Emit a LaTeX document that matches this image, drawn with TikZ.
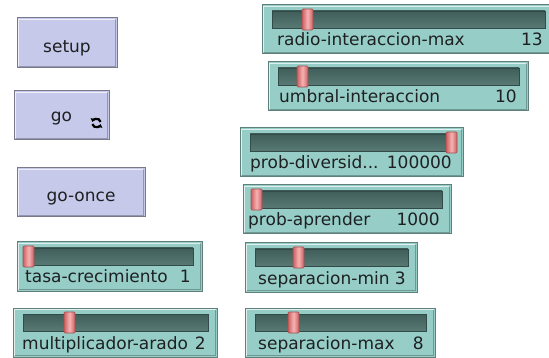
\documentclass[tikz,border=0pt]{standalone}
\usepackage{fontspec}
\setmainfont{DejaVu Sans}
\usetikzlibrary{arrows.meta}

\definecolor{btnfill}{RGB}{198,201,234}
\definecolor{btnedge}{RGB}{120,122,140}
\definecolor{sldfill}{RGB}{150,205,199}
\definecolor{sldedge}{RGB}{96,128,124}
\definecolor{trackdark}{RGB}{64,94,90}
\definecolor{tracklight}{RGB}{88,121,116}
\definecolor{knobdark}{RGB}{205,96,98}
\definecolor{knoblight}{RGB}{246,178,178}
\definecolor{txt}{RGB}{30,32,34}

\tikzset{
  widget/.style={anchor=north west, inner sep=0pt, outer sep=0pt, line width=1pt},
  buttonbox/.style={widget, fill=btnfill, draw=btnedge},
  sliderbox/.style={widget, fill=sldfill, draw=sldedge},
  bevel/.style={white, opacity=0.7, line width=1pt},
  shade/.style={black, opacity=0.25, line width=1pt},
  track/.style={anchor=north west, inner sep=0pt, outer sep=0pt, minimum height=17pt,
    top color=trackdark, bottom color=tracklight, draw=trackdark!80!black, line width=0.7pt},
  knob/.style={anchor=north west, inner sep=0pt, outer sep=0pt, minimum width=11pt, minimum height=21pt,
    left color=knobdark, right color=knobdark, middle color=knoblight, draw=knobdark!80!black,
    line width=0.6pt, rounded corners=1pt},
  lbl/.style={inner sep=0pt, font=\fontsize{17}{17}\selectfont, text=txt},
  icon/.style={line width=2.2pt, black, -{Triangle[length=3.2pt,width=5pt]}},
}

% raised edge for a widget node: light top/left, dark bottom/right
\newcommand\nlbevel[1]{%
  \draw[bevel] ([xshift=1.5pt,yshift=1.5pt]#1.south west) |- ([xshift=-1.5pt,yshift=-1.5pt]#1.north east);
  \draw[shade] ([xshift=1.5pt,yshift=1.5pt]#1.south west) -| ([xshift=-1.5pt,yshift=-1.5pt]#1.north east);
}

% NetLogo button: name, x0, y0, x1, y1, text baseline, text
\newcommand\nlbutton[7]{%
  \pgfmathsetmacro\bw{#4-#2}\pgfmathsetmacro\bh{#5-#3}
  \node[buttonbox, minimum width=\bw pt, minimum height=\bh pt] (#1) at (#2,#3) {};
  \nlbevel{#1}
  \node[lbl, anchor=base] (#1-text) at ({(#2+#4)/2},#6) {#7};
}

% NetLogo slider: name, x0, y0, x1, knob x, label, value, label x
\newcommand\nlslider[8]{%
  \pgfmathsetmacro\sw{#4-#2}\pgfmathsetmacro\tw{#4-#2-19}
  \node[sliderbox, minimum width=\sw pt, minimum height=49pt] (#1) at (#2,#3) {};
  \nlbevel{#1}
  \node[track, minimum width=\tw pt] (#1-track) at (#2+10,#3+6) {};
  \node[knob] (#1-knob) at (#5,#3+4) {};
  \node[lbl, anchor=base west] (#1-label) at (#8,#3+41) {#6};
  \node[lbl, anchor=base east] (#1-value) at (#4-11,#3+41) {#7};
}

\begin{document}
\begin{tikzpicture}[x=1pt, y=-1pt]
  \fill[white] (0,0) rectangle (549,358);
  \useasboundingbox (0,0) rectangle (549,358);

  % buttons
  \nlbutton{setup}{17}{18}{117}{68}{53}{setup}
  \nlbutton{go}{14}{91}{109}{140}{122}{go\hspace{28pt}}
  \nlbutton{goonce}{17}{168}{145}{217}{202}{go-once}

  % forever marker on the go button
  \coordinate (go-icon) at (96.5,123);
  \draw[icon] ([shift={(15:4.3pt)}]go-icon) arc[start angle=15, end angle=165, radius=4.3pt];
  \draw[icon] ([shift={(195:4.3pt)}]go-icon) arc[start angle=195, end angle=345, radius=4.3pt];

  % sliders, right column
  \nlslider{radio}{262}{5}{554}{302}{radio-interaccion-max}{13}{277}
  \nlslider{umbral}{268}{62}{528}{297}{umbral-interaccion}{10}{279}
  \nlslider{probdiv}{240}{128}{463}{446}{prob-diversid...}{100000}{250}
  \nlslider{probapr}{243}{185}{451}{251}{prob-aprender}{1000}{248}
  \nlslider{sepmin}{245}{243}{417}{293}{separacion-min}{3}{258}
  \nlslider{sepmax}{245}{308}{435}{288}{separacion-max}{8}{258}

  % sliders, left column
  \nlslider{tasa}{17}{242}{202}{23}{tasa-crecimiento}{1}{25}
  \nlslider{arado}{13}{308}{217}{64}{multiplicador-arado}{2}{22}
\end{tikzpicture}
\end{document}
